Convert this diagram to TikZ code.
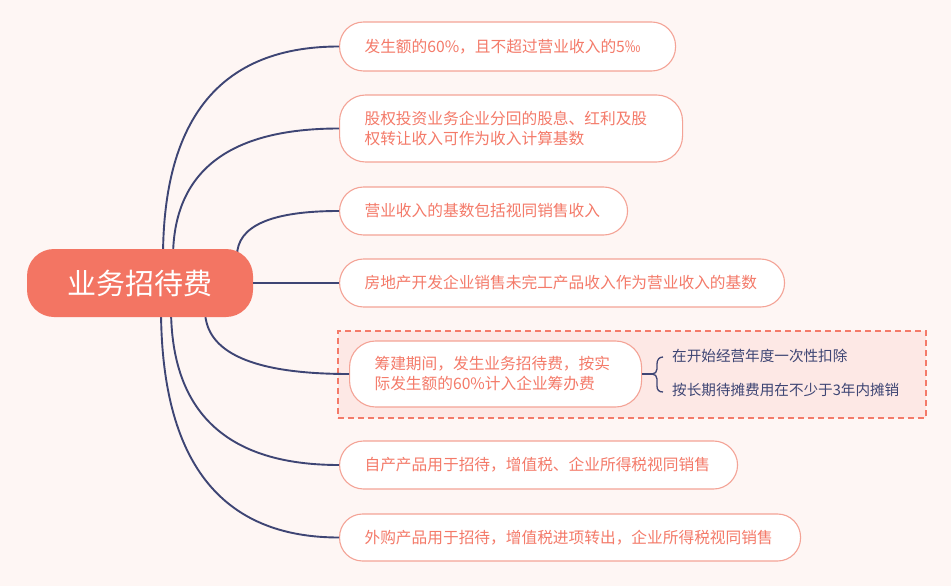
\documentclass[tikz,border=0pt]{standalone}
\usepackage{fontspec}
\newfontfamily\cjk{Noto Sans CJK SC}
\usetikzlibrary{calc}
\definecolor{bgc}{HTML}{FEF6F4}
\definecolor{rootc}{HTML}{F37563}
\definecolor{boxline}{HTML}{F4A396}
\definecolor{boxtext}{HTML}{F47A69}
\definecolor{navy}{HTML}{3E4574}
\definecolor{dashfill}{HTML}{FDE8E5}
\definecolor{dashline}{HTML}{F47A69}
\tikzset{
  conn/.style={draw=navy, line width=1.9pt},
  childbox/.style={draw=boxline, fill=white, line width=1.1pt, anchor=west,
    inner xsep=25pt, inner ysep=0pt, align=left, text=boxtext,
    font=\cjk\fontsize{15.7}{20}\selectfont},
  subtext/.style={anchor=west, inner sep=0pt, text=navy,
    font=\cjk\fontsize{14.6}{18}\selectfont},
}
\begin{document}
\begin{tikzpicture}[x=1pt,y=-1pt]
\useasboundingbox (0,0) rectangle (951,586);
\fill[bgc] (0,0) rectangle (951,586);
% dashed group
\node[draw=dashline, fill=dashfill, dashed, dash pattern=on 6pt off 4pt, line width=1.7pt,
  minimum width=588pt, minimum height=87pt, inner sep=0pt, anchor=north west] (grp) at (337,330) {};
% child boxes
\node[childbox, text width=286pt, minimum height=49pt, rounded corners=24pt] (b1) at (339,46.5) {发生额的60\%，且不超过营业收入的5‰};
\node[childbox, text width=293pt, minimum height=67pt, rounded corners=26pt] (b2) at (339,128.5) {股权投资业务企业分回的股息、红利及股\\权转让收入可作为收入计算基数};
\node[childbox, text width=238pt, minimum height=48pt, rounded corners=24pt] (b3) at (339,211) {营业收入的基数包括视同销售收入};
\node[childbox, text width=395pt, minimum height=48pt, rounded corners=24pt] (b4) at (339,283) {房地产开发企业销售未完工产品收入作为营业收入的基数};
\node[childbox, text width=242pt, minimum height=66pt, rounded corners=26pt] (b5) at (349,374) {筹建期间，发生业务招待费，按实\\际发生额的60\%计入企业筹办费};
\node[childbox, text width=348pt, minimum height=48pt, rounded corners=24pt] (b6) at (339,465) {自产产品用于招待，增值税、企业所得税视同销售};
\node[childbox, text width=411pt, minimum height=47pt, rounded corners=23pt] (b7) at (339,537.5) {外购产品用于招待，增值税进项转出，企业所得税视同销售};
% start points of connectors (under the root)
\coordinate (s1) at (163,258);
\coordinate (s2) at (173,258);
\coordinate (s3) at (237,256);
\coordinate (s5) at (205,310);
\coordinate (s6) at (171,308);
\coordinate (s7) at (161,308);
\draw[conn] (s1) .. controls ($(s1)!0.667!(s1|-b1.west)$) and ($(b1.west)!0.667!(s1|-b1.west)$) .. (b1.west);
\draw[conn] (s2) .. controls ($(s2)!0.667!(s2|-b2.west)$) and ($(b2.west)!0.667!(s2|-b2.west)$) .. (b2.west);
\draw[conn] (s3) .. controls ($(s3)!0.667!(s3|-b3.west)$) and ($(b3.west)!0.667!(s3|-b3.west)$) .. (b3.west);
\draw[conn] (s5) .. controls ($(s5)!0.667!(s5|-b5.west)$) and ($(b5.west)!0.667!(s5|-b5.west)$) .. (b5.west);
\draw[conn] (s6) .. controls ($(s6)!0.667!(s6|-b6.west)$) and ($(b6.west)!0.667!(s6|-b6.west)$) .. (b6.west);
\draw[conn] (s7) .. controls ($(s7)!0.667!(s7|-b7.west)$) and ($(b7.west)!0.667!(s7|-b7.west)$) .. (b7.west);
% root
\node[fill=rootc, rounded corners=27pt, minimum width=226pt, minimum height=68pt, inner sep=0pt,
  text=white, font=\cjk\fontsize{29}{32}\selectfont] (root) at (140,283) {业务招待费};
\draw[conn] (root.east) -- (b4.west);
% brace to sub items
\coordinate (bm) at (652,374);
\draw[navy, line width=1.3pt] (b5.east) -- (bm);
\draw[navy, line width=1.3pt] (663,357) .. controls (659,357) and (657,360) .. (657,364) -- (657,369)
  .. controls (657,372) and (655,374) .. (bm)
  .. controls (655,374) and (657,376) .. (657,379) -- (657,386)
  .. controls (657,390) and (659,392) .. (663,392);
\node[subtext] (t1) at (672,356) {在开始经营年度一次性扣除};
\node[subtext] (t2) at (672,390) {按长期待摊费用在不少于3年内摊销};
\end{tikzpicture}
\end{document}
